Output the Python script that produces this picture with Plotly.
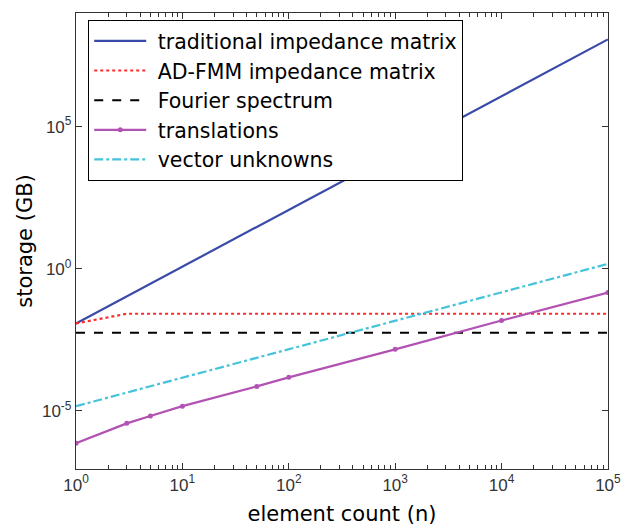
import plotly.graph_objects as go

# ---- data ----
n_dec = [1, 10, 100, 1e3, 1e4, 1e5]
trad = [0.0118, 1.18, 118, 1.18e4, 1.18e6, 1.18e8]

n_fmm = [1, 3, 10, 100, 1e3, 1e4, 1e5]
fmm = [0.0118, 0.026, 0.026, 0.026, 0.026, 0.026, 0.026]

n_four = [1, 1e5]
four = [0.0056, 0.0056]

n_trans = [1, 3, 5, 10, 50, 100, 1e3, 1e4, 1e5]
trans = [7.2e-7, 3.6e-6, 6.5e-6, 1.45e-5, 7.2e-5, 1.5e-4, 1.45e-3, 1.5e-2, 0.145]

n_vec = [1, 10, 100, 1e3, 1e4, 1e5]
vec = [1.45e-5, 1.45e-4, 1.45e-3, 1.45e-2, 0.145, 1.48]

names = ["traditional impedance matrix", "AD-FMM impedance matrix",
         "Fourier spectrum", "translations", "vector unknowns"]

x_tickvals = [1, 10, 100, 1e3, 1e4, 1e5]
x_ticktext = ["10<sup>0</sup>", "10<sup>1</sup>", "10<sup>2</sup>",
              "10<sup>3</sup>", "10<sup>4</sup>", "10<sup>5</sup>"]
y_tickvals = [1e-5, 1, 1e5]
y_ticktext = ["10<sup>-5</sup>", "10<sup>0</sup>", "10<sup>5</sup>"]
x_minor = [m * 10 ** d for d in range(5) for m in range(2, 10)]

FONT = "Liberation Sans, Arial, Helvetica, sans-serif"
TFONT = "DejaVu Sans, Liberation Sans, sans-serif"
NB = "\u00a0"

fig = go.Figure()
fig.add_trace(go.Scatter(x=n_dec, y=trad, mode="lines", name=NB + names[0],
                         line=dict(color="#3a4aa8", width=2.2)))
fig.add_trace(go.Scatter(x=n_fmm, y=fmm, mode="lines", name=NB + names[1],
                         line=dict(color="#ff2a2a", width=2.2, dash="dot")))
fig.add_trace(go.Scatter(x=n_four, y=four, mode="lines", name=NB + names[2],
                         line=dict(color="#000000", width=2, dash="dash")))
fig.add_trace(go.Scatter(x=n_trans, y=trans, mode="lines+markers", name=NB + names[3],
                         line=dict(color="#b252b2", width=2.2),
                         marker=dict(color="#b252b2", size=5)))
fig.add_trace(go.Scatter(x=n_vec, y=vec, mode="lines", name=NB + names[4],
                         line=dict(color="#45c3da", width=2.2, dash="dashdot")))

axis_common = dict(
    showline=True, linecolor="#333333", linewidth=1.3, mirror="ticks",
    ticks="inside", tickcolor="#333333", showgrid=False, zeroline=False,
    tickfont=dict(family=FONT, size=17, color="#333333"),
    ticklabeloverflow="allow", automargin=False,
)

fig.update_xaxes(type="log", range=[0, 5.0008], tickmode="array",
                 tickvals=x_tickvals, ticktext=x_ticktext, ticklen=6,
                 minor=dict(tickmode="array", tickvals=x_minor, ticks="inside",
                            ticklen=4, tickcolor="#333333", showgrid=False),
                 title=dict(text="element count (n)", font=dict(family=TFONT, size=21, color="#000"),
                            standoff=12),
                 **axis_common)
fig.update_yaxes(type="log", range=[-7.05, 9], tickmode="array",
                 tickvals=y_tickvals, ticktext=y_ticktext, ticklen=6,
                 title=dict(text="storage (GB)", font=dict(family=TFONT, size=21, color="#000"),
                            standoff=3),
                 **axis_common)

fig.update_layout(
    width=621, height=530,
    margin=dict(l=76, r=13, t=13, b=61, autoexpand=False),
    paper_bgcolor="white", plot_bgcolor="white",
    font=dict(family=FONT, color="#000"),
    showlegend=True,
    legend=dict(x=0.0226, y=0.985, xanchor="left", yanchor="top",
                bgcolor="white", bordercolor="#000", borderwidth=1.2,
                font=dict(family=TFONT, size=20.5, color="#000"),
                itemwidth=52, tracegroupgap=0),
)

fig.write_html("out.html")
